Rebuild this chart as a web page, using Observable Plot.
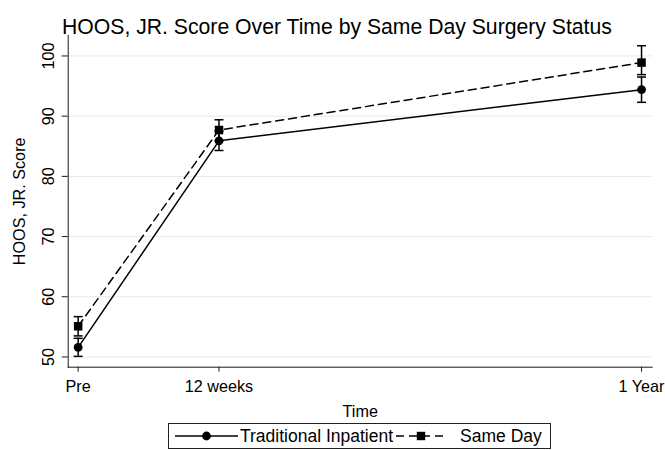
<!DOCTYPE html>
<html>
<head>
<meta charset="utf-8">
<script src="https://cdn.jsdelivr.net/npm/d3@7"></script>
<script src="https://cdn.jsdelivr.net/npm/@observablehq/plot@0.6"></script>
<style>
  html, body { margin: 0; padding: 0; background: #fff; }
  #wrap { position: relative; width: 665px; height: 450px; overflow: hidden; font-family: "Liberation Sans", Arial, sans-serif; color: #000; }
  #title { position: absolute; left: 62px; top: 15px; font-size: 21.2px; line-height: 24px; white-space: nowrap; }
  #chart { position: absolute; left: 0; top: 0; }
  #legend { position: absolute; left: 168px; top: 423px; height: 26px; border: 1px solid #222; box-sizing: border-box;
            display: flex; align-items: center; font-size: 17.5px; white-space: nowrap; padding: 0 8px 0 6px; background: #fff; }
  #legend svg { display: block; }
</style>
</head>
<body>
<div id="wrap">
  <div id="title">HOOS, JR. Score Over Time by Same Day Surgery Status</div>
  <div id="chart"></div>
  <div id="legend"></div>
</div>
<script>
// ---- data ----
const timeLabels = ["Pre", "12 weeks", "1 Year"];
const timeMonths = [0, 3, 12];
const seriesNames = ["Traditional Inpatient", "Same Day"];
const tradMean = [51.6, 85.9, 94.4];
const tradLow  = [50.1, 84.3, 92.3];
const tradHigh = [53.1, 87.5, 96.5];
const sameMean = [55.1, 87.7, 98.9];
const sameLow  = [53.5, 85.9, 96.9];
const sameHigh = [56.7, 89.4, 101.7];
const yTicks = [50, 60, 70, 80, 90, 100];

const build = (name, mean, lo, hi) => timeMonths.map((t, i) => ({series: name, t, label: timeLabels[i], y: mean[i], lo: lo[i], hi: hi[i]}));
const trad = build(seriesNames[0], tradMean, tradLow, tradHigh);
const same = build(seriesNames[1], sameMean, sameLow, sameHigh);
const all = trad.concat(same);

// horizontal cap symbol for the error bars
const capSymbol = { draw(ctx) { ctx.moveTo(-4.5, 0); ctx.lineTo(4.5, 0); } };

const ink = "#1a1a1a";
const chart = Plot.plot({
  width: 665,
  height: 422,
  marginTop: 35,
  marginBottom: 55.3,
  marginLeft: 67.7,
  marginRight: 13.3,
  style: { fontFamily: "'Liberation Sans', Arial, sans-serif", fontSize: "16.2px", color: "#000", background: "transparent", overflow: "visible" },
  x: { domain: [-0.212, 12.227] },
  y: { domain: [48.3, 103.4] },
  marks: [
    Plot.gridY(yTicks, { stroke: "#e8e8e8", strokeOpacity: 1, strokeWidth: 1 }),
    Plot.axisY(yTicks, { tickRotate: -90, tickSize: 6, tickPadding: 8, stroke: ink, label: "HOOS, JR. Score", labelAnchor: "center", labelArrow: "none", labelOffset: 55 }),
    Plot.axisX(timeMonths, { tickSize: 5, tickPadding: 8, stroke: ink, tickFormat: d => timeLabels[timeMonths.indexOf(d)], label: "Time", labelAnchor: "center", labelArrow: "none", labelOffset: 50 }),
    Plot.frame({ anchor: "left", stroke: ink }),
    Plot.frame({ anchor: "bottom", stroke: ink }),
    // error bars
    Plot.ruleX(all, { x: "t", y1: "lo", y2: "hi", stroke: "#000", strokeWidth: 1.5 }),
    Plot.dot(all, { x: "t", y: "lo", symbol: capSymbol, stroke: "#000", fill: "none", strokeWidth: 1.5 }),
    Plot.dot(all, { x: "t", y: "hi", symbol: capSymbol, stroke: "#000", fill: "none", strokeWidth: 1.5 }),
    // lines
    Plot.line(trad, { x: "t", y: "y", stroke: "#000", strokeWidth: 1.5 }),
    Plot.line(same, { x: "t", y: "y", stroke: "#000", strokeWidth: 1.5, strokeDasharray: "8,5" }),
    // markers
    Plot.dot(trad, { x: "t", y: "y", symbol: "circle", r: 4.4, fill: "#000", stroke: "none" }),
    Plot.dot(same, { x: "t", y: "y", symbol: "square", r: 4.8, fill: "#000", stroke: "none" })
  ]
});
document.getElementById("chart").appendChild(chart);

// legend
const legend = document.getElementById("legend");
function swatch(width, dashed, symbol) {
  const svg = d3.create("svg").attr("width", width).attr("height", 14);
  svg.append("line").attr("x1", 0).attr("x2", width).attr("y1", 7).attr("y2", 7)
    .attr("stroke", "#000").attr("stroke-width", 1.5).attr("stroke-dasharray", dashed ? "8,5" : null);
  if (symbol === "circle") svg.append("circle").attr("cx", width / 2).attr("cy", 7).attr("r", 4.4).attr("fill", "#000");
  else svg.append("rect").attr("x", width / 2 - 4.2).attr("y", 2.8).attr("width", 8.4).attr("height", 8.4).attr("fill", "#000");
  return svg.node();
}
const items = [
  { name: seriesNames[0], sw: swatch(63, false, "circle"), gapAfter: 2, marginLeft: 0 },
  { name: seriesNames[1], sw: swatch(50, true, "square"), gapAfter: 14, marginLeft: 3 }
];
items.forEach(it => {
  it.sw.style.marginLeft = it.marginLeft + "px";
  it.sw.style.marginRight = it.gapAfter + "px";
  legend.appendChild(it.sw);
  const s = document.createElement("span");
  s.textContent = it.name;
  legend.appendChild(s);
});
</script>
</body>
</html>
